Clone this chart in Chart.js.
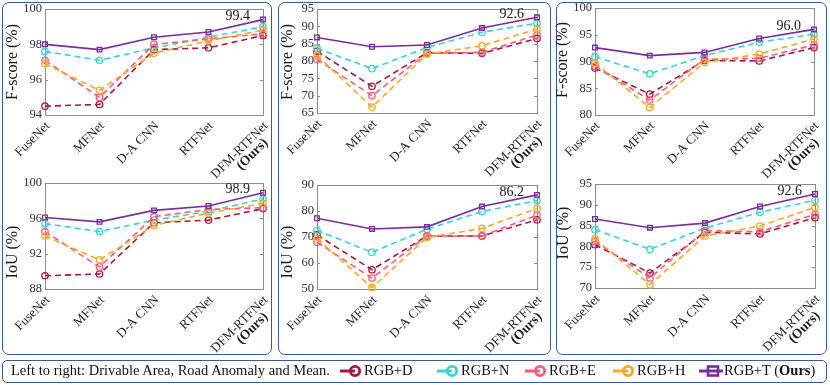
<!DOCTYPE html>
<html>
<head>
<meta charset="utf-8">
<script src="https://cdn.jsdelivr.net/npm/chart.js@4.4.0/dist/chart.umd.min.js"></script>
<style>
  body { margin: 0; width: 830px; height: 385px; background: #fff; position: relative; overflow: hidden;
         font-family: "Liberation Serif", "DejaVu Serif", serif; color: #111; }
  .panel { position: absolute; border: 1.5px solid #3d5a96; border-radius: 7px; box-sizing: border-box; }
  canvas.layer { position: absolute; left: 0; top: 0; pointer-events: none; }
  #legend { position: absolute; left: 2px; top: 360px; width: 825px; height: 23px; border: 1.5px solid #3d5a96;
            border-radius: 5px; box-sizing: border-box; font-size: 14.5px; }
  #legend span, #legend svg { position: absolute; }
  #legend span { top: 1px; white-space: nowrap; }
  #legend svg { top: 3px; }
</style>
</head>
<body>
<div class="panel" style="left:2px;top:2px;width:270px;height:353px"></div>
<div class="panel" style="left:278px;top:2px;width:273px;height:353px"></div>
<div class="panel" style="left:556px;top:2px;width:271px;height:353px"></div>

<canvas class="layer" id="c1" width="830" height="385"></canvas>
<canvas class="layer" id="c2" width="830" height="385"></canvas>
<canvas class="layer" id="c3" width="830" height="385"></canvas>
<canvas class="layer" id="c4" width="830" height="385"></canvas>
<canvas class="layer" id="c5" width="830" height="385"></canvas>
<canvas class="layer" id="c6" width="830" height="385"></canvas>

<div id="legend"></div>

<script>
// categories and series
const methods = ["FuseNet", "MFNet", "D-A CNN", "RTFNet", "DFM-RTFNet"];
const seriesNames = ["RGB+D", "RGB+N", "RGB+E", "RGB+H", "RGB+T"];
const seriesColors = ["#a8173f", "#36d6cc", "#ff5a7c", "#f8a823", "#7b2c9b"];

// rows follow seriesNames: D, N, E, H, T
const drivableF = [
    [94.5, 94.6, 97.7, 97.8, 98.5],
    [97.6, 97.1, 97.8, 98.4, 99.0],
    [97.1, 95.0, 98.0, 98.3, 98.6],
    [96.9, 95.4, 97.5, 98.2, 98.8],
    [98.0, 97.7, 98.4, 98.7, 99.4],
];
const drivableIoU = [
    [89.5, 89.7, 95.5, 95.8, 97.1],
    [95.4, 94.5, 95.8, 96.8, 98.2],
    [94.5, 90.5, 96.2, 97.0, 97.2],
    [94.0, 91.3, 95.2, 96.6, 97.7],
    [96.1, 95.6, 96.9, 97.4, 98.9],
];
const anomalyF = [
    [82.8, 72.7, 82.4, 82.2, 86.5],
    [83.7, 77.8, 83.9, 88.3, 90.9],
    [80.5, 70.0, 82.2, 82.5, 87.5],
    [81.6, 66.7, 82.0, 84.4, 89.2],
    [86.8, 84.1, 84.6, 89.5, 92.6],
];
const anomalyIoU = [
    [70.8, 57.4, 70.4, 70.4, 76.6],
    [72.6, 64.1, 73.0, 79.8, 84.0],
    [68.0, 54.2, 70.4, 70.4, 78.4],
    [69.3, 50.6, 69.8, 73.3, 81.0],
    [77.2, 73.1, 73.9, 81.7, 86.2],
];
const meanF = [
    [88.8, 83.9, 90.2, 90.1, 92.6],
    [90.9, 87.7, 91.1, 93.6, 95.1],
    [89.1, 82.8, 90.4, 90.6, 93.1],
    [89.7, 81.4, 89.8, 91.4, 94.2],
    [92.6, 91.1, 91.7, 94.3, 96.0],
];
const meanIoU = [
    [80.4, 73.6, 83.4, 83.0, 86.9],
    [84.0, 79.3, 84.4, 88.2, 91.1],
    [81.2, 72.4, 83.8, 83.5, 87.7],
    [81.8, 70.8, 82.5, 84.9, 89.4],
    [86.6, 84.5, 85.6, 89.6, 92.6],
];

// y tick labels
const drivableFTicks = [94, 96, 98, 100];
const drivableIoUTicks = [88, 92, 96, 100];
const anomalyFTicks = [65, 70, 75, 80, 85, 90, 95];
const anomalyIoUTicks = [50, 60, 70, 80, 90];
const meanFTicks = [80, 85, 90, 95, 100];
const meanIoUTicks = [70, 75, 80, 85, 90, 95];

const SERIF = '"Liberation Serif", "DejaVu Serif", serif';
const PAGE_W = 830, PAGE_H = 385, AXIS_W = 38;

const subplots = [
    { id: "c1", rows: drivableF, ticks: drivableFTicks, title: "F-score (%)",
      area: { left: 45, right: 263, top: 9, bottom: 115 }, titleX: 13, titleY: 62 },
    { id: "c2", rows: drivableIoU, ticks: drivableIoUTicks, title: "IoU (%)",
      area: { left: 45, right: 263, top: 183, bottom: 289 }, titleX: 13, titleY: 252 },
    { id: "c3", rows: anomalyF, ticks: anomalyFTicks, title: "F-score (%)",
      area: { left: 317, right: 537, top: 9, bottom: 113 }, titleX: 288, titleY: 62 },
    { id: "c4", rows: anomalyIoU, ticks: anomalyIoUTicks, title: "IoU (%)",
      area: { left: 317, right: 537, top: 185, bottom: 289 }, titleX: 288, titleY: 252 },
    { id: "c5", rows: meanF, ticks: meanFTicks, title: "F-score (%)",
      area: { left: 595, right: 814, top: 8, bottom: 115 }, titleX: 563, titleY: 60 },
    { id: "c6", rows: meanIoU, ticks: meanIoUTicks, title: "IoU (%)",
      area: { left: 595, right: 815, top: 184, bottom: 288 }, titleX: 564, titleY: 233 },
];

// frame, inner ticks, tick labels, rotated category labels, y title and the value label
const framePlugin = {
    id: "frame",
    beforeDatasetsDraw(chart, args, opts) {
        const { ctx, chartArea: a } = chart;
        const y = chart.scales.y;
        ctx.save();
        ctx.strokeStyle = "#8c8c8c";
        ctx.lineWidth = 1;
        ctx.strokeRect(Math.round(a.left) + 0.5, Math.round(a.top) + 0.5,
                       Math.round(a.right - a.left), Math.round(a.bottom - a.top));
        ctx.beginPath();
        opts.ticks.forEach(v => {
            const py = Math.round(y.getPixelForValue(v)) + 0.5;
            ctx.moveTo(a.left, py); ctx.lineTo(a.left + 3, py);
            ctx.moveTo(a.right - 3, py); ctx.lineTo(a.right, py);
        });
        ctx.stroke();

        // y tick labels
        ctx.fillStyle = "#333";
        ctx.font = "12.5px " + SERIF;
        ctx.textAlign = "right";
        ctx.textBaseline = "middle";
        opts.ticks.forEach(v => {
            ctx.fillText(String(v), a.left - 3, y.getPixelForValue(v));
        });
        ctx.restore();
    },
    afterDraw(chart, args, opts) {
        const { ctx, chartArea: a } = chart;
        const x = chart.scales.x;
        ctx.save();
        ctx.fillStyle = "#1a1a1a";

        // category labels, rotated 45 degrees
        methods.forEach((m, i) => {
            const px = x.getPixelForValue(i);
            ctx.save();
            ctx.translate(px + 3, a.bottom + 9);
            ctx.rotate(-Math.PI / 4);
            ctx.textAlign = "right";
            ctx.textBaseline = "middle";
            ctx.font = "13px " + SERIF;
            ctx.fillText(m, 0, 0);
            if (i === methods.length - 1) {
                ctx.font = "bold 13.5px " + SERIF;
                ctx.fillText("(Ours)", -12, 12);
            }
            ctx.restore();
        });

        // y axis title
        ctx.save();
        ctx.translate(opts.titleX, opts.titleY);
        ctx.rotate(-Math.PI / 2);
        ctx.textAlign = "center";
        ctx.textBaseline = "middle";
        ctx.font = "16px " + SERIF;
        ctx.fillText(opts.title, 0, 0);
        ctx.restore();

        // value of the best model at the last category
        const last = chart.data.datasets.length - 1;
        const pt = chart.getDatasetMeta(last).data[methods.length - 1];
        const val = chart.data.datasets[last].data[methods.length - 1];
        ctx.font = "14px " + SERIF;
        ctx.textAlign = "right";
        ctx.textBaseline = "middle";
        ctx.fillText(val.toFixed(1), pt.x - 13, pt.y - 3);
        ctx.restore();
    }
};

function makeChart(sp) {
    const datasets = sp.rows.map((vals, s) => {
        const ours = s === seriesNames.length - 1;
        return {
            label: seriesNames[s],
            data: vals,
            borderColor: seriesColors[s],
            borderWidth: 1.6,
            borderDash: ours ? [] : [6, 4],
            pointStyle: ours ? "rect" : "circle",
            pointRadius: ours ? 3.3 : 3.2,
            pointBorderWidth: 1.3,
            pointBorderColor: seriesColors[s],
            pointBackgroundColor: "rgba(255,255,255,0)",
            tension: 0,
            clip: false,
            order: seriesNames.length - s,
        };
    });

    new Chart(document.getElementById(sp.id), {
        type: "line",
        data: { labels: methods, datasets: datasets },
        options: {
            responsive: false,
            animation: false,
            layout: {
                padding: {
                    left: sp.area.left - AXIS_W,
                    right: PAGE_W - sp.area.right,
                    top: sp.area.top,
                    bottom: PAGE_H - sp.area.bottom,
                }
            },
            scales: {
                x: { display: false, offset: false },
                y: {
                    min: sp.ticks[0],
                    max: sp.ticks[sp.ticks.length - 1],
                    afterFit: s => { s.width = AXIS_W; },
                    ticks: { display: false },
                    grid: { display: false, drawTicks: false },
                    border: { display: false },
                }
            },
            plugins: {
                legend: { display: false },
                tooltip: { enabled: false },
                frame: { title: sp.title, titleX: sp.titleX, titleY: sp.titleY, ticks: sp.ticks },
            }
        },
        plugins: [framePlugin]
    });
}

subplots.forEach(makeChart);

// legend row
const legendEl = document.getElementById("legend");
const legendText = "Left to right: Drivable Area, Road Anomaly and Mean.";
const legendMarkX = [336, 433, 521, 609, 696];
let html = '<span style="left:8px">' + legendText + "</span>";
seriesNames.forEach((name, s) => {
    const c = seriesColors[s];
    const ours = s === seriesNames.length - 1;
    const mark = ours
        ? '<line x1="0" y1="7" x2="24" y2="7" stroke="' + c + '" stroke-width="3"/>' +
          '<rect x="9" y="2.5" width="10" height="9" fill="none" stroke="' + c + '" stroke-width="2.6"/>'
        : '<line x1="1" y1="7" x2="16" y2="7" stroke="' + c + '" stroke-width="3"/>' +
          '<circle cx="16" cy="7" r="4.7" fill="none" stroke="' + c + '" stroke-width="2.8"/>';
    html += '<svg width="25" height="14" style="left:' + legendMarkX[s] + 'px">' + mark + "</svg>";
    const label = ours ? name + " (<b>Ours</b>)" : name;
    html += '<span style="left:' + (legendMarkX[s] + 25) + 'px">' + label + "</span>";
});
legendEl.innerHTML = html;
</script>
</body>
</html>
